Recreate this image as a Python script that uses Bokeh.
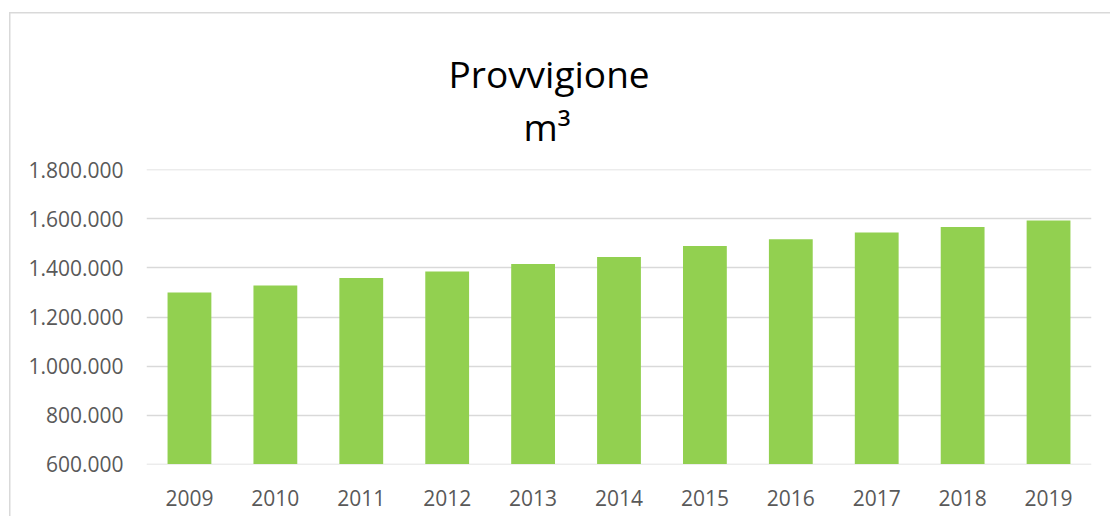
from bokeh.plotting import figure
from bokeh.models import (ColumnDataSource, FixedTicker, Title, FactorRange, Range1d)
from bokeh.embed import file_html
from bokeh.resources import INLINE

years = ["2009", "2010", "2011", "2012", "2013", "2014", "2015", "2016", "2017", "2018", "2019"]
provvigione = [1300000, 1329000, 1359000, 1386000, 1416000, 1445000, 1490000, 1517000, 1545000, 1567000, 1594000]
y_ticks = [600000, 800000, 1000000, 1200000, 1400000, 1600000, 1800000]
y_tick_labels = ["600.000", "800.000", "1.000.000", "1.200.000", "1.400.000", "1.600.000", "1.800.000"]
title_line1 = "Provvigione"
title_line2 = "m³"

src = ColumnDataSource(dict(year=years, val=provvigione, base=[y_ticks[0]] * len(years)))

p = figure(x_range=FactorRange(*years, range_padding=0),
           y_range=Range1d(y_ticks[0] - 2000, y_ticks[-1] + 2000),
           width=1110, height=516, output_backend="svg", toolbar_location=None,
           min_border_left=146, min_border_right=19, min_border_top=169, min_border_bottom=52)

p.vbar(x="year", top="val", bottom="base", width=0.51, source=src,
       fill_color="#92D050", line_color=None)

FONT = "Open Sans"
p.yaxis.ticker = FixedTicker(ticks=y_ticks)
p.yaxis.major_label_overrides = {t: l for t, l in zip(y_ticks, y_tick_labels)}
for ax in (p.xaxis, p.yaxis):
    ax.axis_line_color = None
    ax.major_tick_line_color = None
    ax.minor_tick_line_color = None
    ax.major_tick_out = 0
    ax.major_tick_in = 0
    ax.major_label_text_font = FONT
    ax.major_label_text_font_size = "21px"
    ax.major_label_text_color = "#595959"
p.yaxis.major_label_standoff = 23
p.xaxis.major_label_standoff = 25

p.xgrid.grid_line_color = None
p.ygrid.grid_line_color = "#D9D9D9"
p.ygrid.grid_line_width = 1.5
p.outline_line_color = None
p.background_fill_color = None
p.border_fill_color = None

# chart-area border (top and left edges) drawn as the element background
p.styles = {
    "background-color": "white",
    "background-image": "linear-gradient(#D9D9D9, #D9D9D9), linear-gradient(#D9D9D9, #D9D9D9)",
    "background-size": "1110px 1.5px, 1.5px 600px",
    "background-position": "8.5px 11.5px, 8.5px 11.5px",
    "background-repeat": "no-repeat",
}

t2 = Title(text=title_line2, align="left", text_font=FONT, text_font_size="37px",
           text_font_style="normal", text_color="#000000", offset=377, standoff=36)
t1 = Title(text=title_line1, align="left", text_font=FONT, text_font_size="37px",
           text_font_style="normal", text_color="#000000", offset=302, standoff=0)
try:
    t1.standoff = -36
except Exception:
    t1.standoff = 0
p.add_layout(t2, "above")
p.add_layout(t1, "above")

open("out.html", "w").write(file_html(p, INLINE))
